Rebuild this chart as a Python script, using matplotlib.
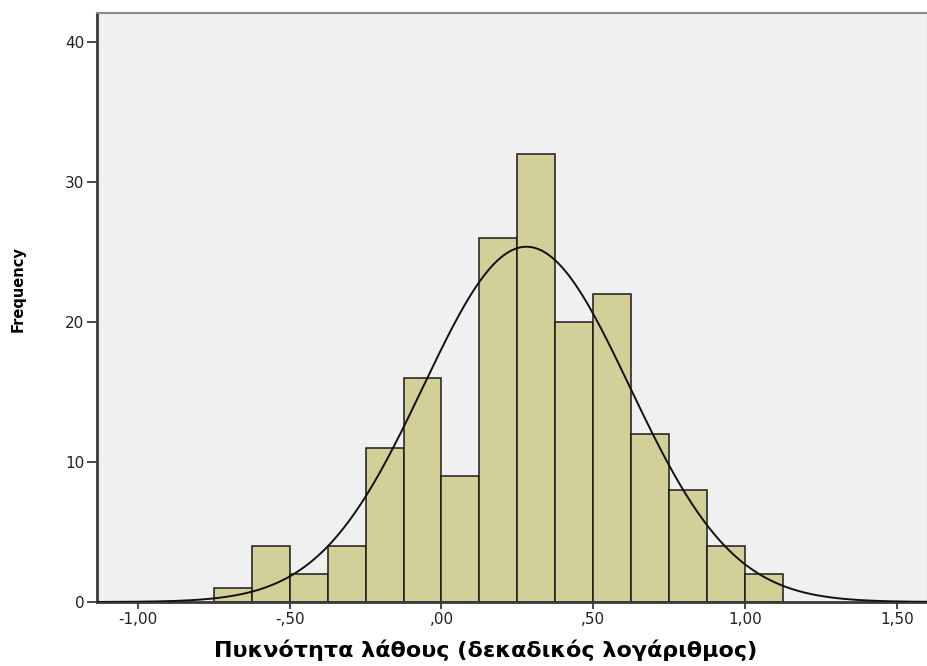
import numpy as np
import matplotlib.pyplot as plt

# histogram bins (left edges) and counts
bin_left = [-0.750, -0.625, -0.500, -0.375, -0.250, -0.125, 0.000, 0.125,
            0.250, 0.375, 0.500, 0.625, 0.750, 0.875, 1.000]
counts = [1, 4, 2, 4, 11, 16, 9, 26, 32, 20, 22, 12, 8, 4, 2]
bin_width = 0.125

# normal curve parameters (SPSS overlay)
mean = 0.28
std_dev = 0.34
n_total = sum(counts)

xticks = [-1.0, -0.5, 0.0, 0.5, 1.0, 1.5]
xtick_labels = ["-1,00", "-,50", ",00", ",50", "1,00", "1,50"]
yticks = [0, 10, 20, 30, 40]

fig = plt.figure(figsize=(9.28, 6.66), dpi=100)
ax = fig.add_axes([0.1045, 0.0961, 0.8945, 0.8844])
ax.set_facecolor("#f0f0f0")

ax.bar(bin_left, counts, width=bin_width, align="edge",
       color="#d3cf98", edgecolor="#1a1a1a", linewidth=1.1, zorder=2)

xlim = (-1.135, 1.60)
xs = np.linspace(xlim[0], xlim[1], 400)
ys = n_total * bin_width / (std_dev * np.sqrt(2 * np.pi)) * np.exp(-0.5 * ((xs - mean) / std_dev) ** 2)
ax.plot(xs, ys, color="#111111", linewidth=1.4, zorder=3)

ax.set_xlim(*xlim)
ax.set_ylim(0, 42.07)
ax.set_xticks(xticks)
ax.set_xticklabels(xtick_labels)
ax.set_yticks(yticks)

for side in ["left", "bottom"]:
    ax.spines[side].set_color("#3a3a3a")
    ax.spines[side].set_linewidth(2.0)
ax.spines["top"].set_color("#8a8a8a")
ax.spines["top"].set_linewidth(1.5)
ax.spines["right"].set_color("#c8c8c8")
ax.spines["right"].set_linewidth(1.0)

ax.tick_params(axis="y", length=7, width=1.3, color="#3a3a3a", labelsize=11,
               labelcolor="#222222", pad=2)
ax.tick_params(axis="x", length=5, width=1.3, color="#3a3a3a", labelsize=11,
               labelcolor="#222222", pad=2)

# axis titles placed as in the original (not centred on the axes)
fig.text(0.020, 0.566, "Frequency", rotation=90, ha="center", va="center",
         fontsize=10.5, fontweight="bold", family="DejaVu Sans")
fig.text(0.523, 0.023, "Πυκνότητα λάθους (δεκαδικός λογάριθμος)", ha="center",
         va="center", fontsize=16, fontweight="bold", family="DejaVu Sans")

fig.savefig("out.png", dpi=100)
